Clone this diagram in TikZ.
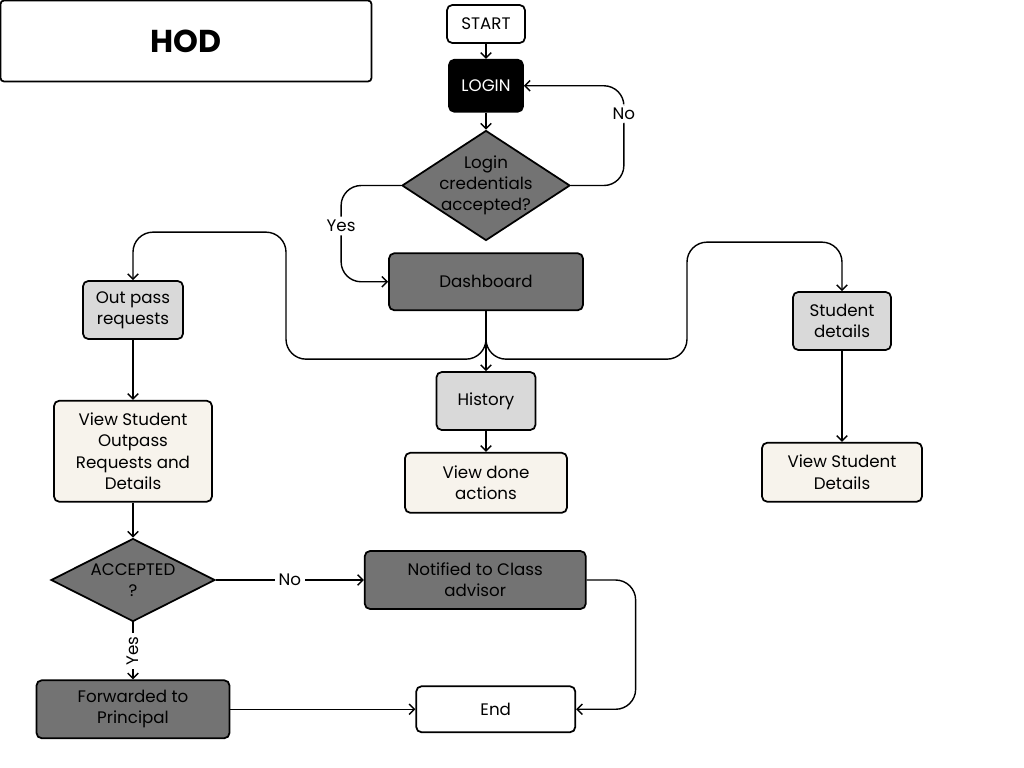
\documentclass[tikz,border=0pt]{standalone}
\usepackage{fontspec}
\setmainfont{Poppins}
\usetikzlibrary{shapes.geometric, arrows.meta, positioning}

\definecolor{darkbox}{HTML}{737373}
\definecolor{lightbox}{HTML}{D9D9D9}
\definecolor{creambox}{HTML}{F7F3EC}

\begin{document}
\begin{tikzpicture}[
  node distance=0.4cm,
  font=\fontsize{9.5}{12}\selectfont,
  box/.style={rectangle, rounded corners=3pt, minimum width=2.0cm, minimum height=1.16cm,
              align=center, draw=black, line width=1pt, inner sep=2pt},
  dark/.style={box, fill=darkbox},
  light/.style={box, fill=lightbox},
  cream/.style={box, fill=creambox},
  check/.style={diamond, draw=black, line width=1pt, fill=darkbox, align=center, inner sep=0pt},
  arrow/.style={-{Straight Barb[length=3pt]}, thick},
  flow/.style={arrow, rounded corners=0.4cm},
  tag/.style={fill=white, inner sep=2pt}
]
\useasboundingbox (0,0) rectangle (20.48,-15.36);

% ---- title ----
\node[box, minimum width=7.42cm, minimum height=1.62cm, rounded corners=2pt,
      font=\fontsize{18}{20}\selectfont\bfseries] (hod) at (3.72,-0.82) {HOD};

% ---- login column ----
\node[box, minimum width=1.56cm, minimum height=0.76cm] (start) at (9.72,-0.48) {START};
\node[box, fill=black, text=white, minimum width=1.48cm, minimum height=1.04cm,
      below=0.3cm of start] (login) {LOGIN};
\node[check, aspect=1.5, inner sep=-4pt, minimum width=3.36cm, minimum height=2.2cm,
      below=0.34cm of login] (cred_check) {Login\\credentials\\accepted?};
\node[dark, minimum width=3.88cm, minimum height=1.14cm, below=0.22cm of cred_check] (dash) {Dashboard};
\node[light, minimum width=1.98cm, below=1.2cm of dash] (history) {History};
\node[cream, minimum width=3.24cm, minimum height=1.2cm, below=0.42cm of history] (done) {View done\\actions};

\draw[arrow] (start) -- (login);
\draw[arrow] (login) -- (cred_check);
\draw[flow] (cred_check.east) -- ++(1.06,0) |- node[pos=0.36, tag] {No} (login.east);
\draw[flow] (cred_check.west) -- ++(-1.2,0) |- node[pos=0.21, tag] {Yes} (dash.west);
\draw[arrow] (dash) -- (history);
\draw[arrow] (history) -- (done);

% ---- out pass column ----
\node[light, minimum width=2.0cm] (outpass) at (2.66,-6.2) {Out pass\\requests};
\node[cream, minimum width=3.16cm, minimum height=2.02cm, below=1.2cm of outpass] (view_req)
  {View Student\\Outpass\\Requests and\\Details};
\node[check, aspect=2, minimum width=3.28cm, minimum height=1.66cm, below=0.7cm of view_req] (accepted)
  {ACCEPTED\\?};
\node[dark, minimum width=3.86cm, below=1.14cm of accepted] (forward) {Forwarded to\\Principal};
\node[dark, minimum width=4.42cm, right=2.96cm of accepted] (notified) {Notified to Class\\advisor};
\node[box, minimum width=3.18cm, minimum height=0.92cm, right=3.7cm of forward] (end) {End};

\draw[flow] (dash.south) -- ++(0,-0.96) -- ++(-4.0,0) -- ++(0,2.54) -| (outpass.north);
\draw[arrow] (outpass) -- (view_req);
\draw[arrow] (view_req) -- (accepted);
\draw[arrow] (accepted) -- node[tag] {No} (notified);
\draw[arrow] (accepted) -- node[tag, rotate=90] {Yes} (forward);
\draw[arrow] (forward) -- (end);
\draw[flow] (notified.east) -- ++(0.98,0) |- (end.east);

% ---- student column ----
\node[light, minimum width=1.96cm] (stud) at (16.84,-6.42) {Student\\details};
\node[cream, minimum width=3.2cm, minimum height=1.18cm, below=1.82cm of stud] (stud_view)
  {View Student\\Details};

\draw[flow] (dash.south) -- ++(0,-0.96) -- ++(4.02,0) -- ++(0,2.34) -| (stud.north);
\draw[arrow] (stud) -- (stud_view);

\end{tikzpicture}
\end{document}
